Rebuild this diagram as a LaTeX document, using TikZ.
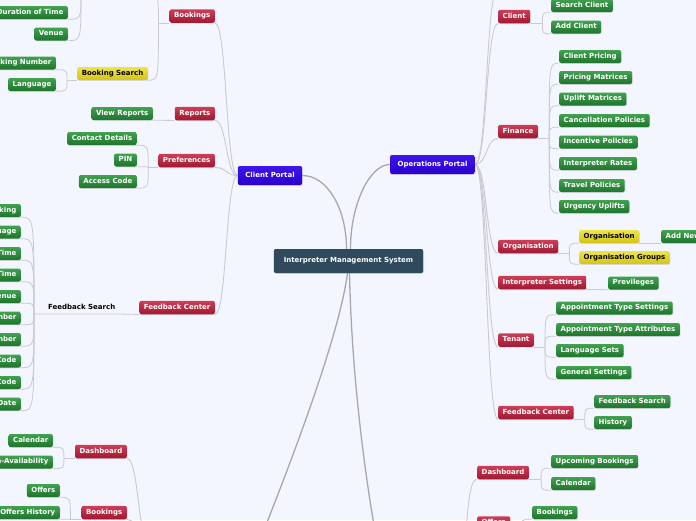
\documentclass[tikz,border=0pt]{standalone}
\usepackage{fontspec}
\setmainfont{DejaVu Sans}
\usetikzlibrary{shadows,backgrounds}
\definecolor{bgc}{RGB}{243,246,254}
\definecolor{imsc}{RGB}{46,74,92}
\definecolor{bluetop}{RGB}{62,22,235}
\definecolor{bluebot}{RGB}{42,0,205}
\definecolor{redtop}{RGB}{206,62,86}
\definecolor{redbot}{RGB}{160,24,50}
\definecolor{greentop}{RGB}{66,162,80}
\definecolor{greenbot}{RGB}{30,116,44}
\definecolor{yeltop}{RGB}{238,228,74}
\definecolor{yelbot}{RGB}{212,196,22}
\definecolor{mainln}{RGB}{168,168,172}
\definecolor{subln}{RGB}{202,202,208}
\tikzset{
 box/.style={rounded corners=2pt, inner xsep=4.5pt, inner ysep=0pt, minimum height=13pt,
   text height=5.3pt, text depth=1.4pt, font=\fontsize{7}{8}\selectfont\bfseries, text=white,
   drop shadow={opacity=0.22, shadow xshift=0.6pt, shadow yshift=-0.9pt}},
 leaf/.style={box, top color=greentop, bottom color=greenbot},
 topic/.style={box, top color=redtop, bottom color=redbot, minimum height=13.5pt},
 yel/.style={box, top color=yeltop, bottom color=yelbot, text=black},
 portal/.style={box, top color=bluetop, bottom color=bluebot, inner xsep=7.5pt, minimum height=19pt},
 central/.style={box, fill=imsc, inner xsep=10pt, minimum height=24pt},
 plain/.style={inner xsep=3pt, inner ysep=0pt, minimum height=13pt, text height=5.3pt, text depth=1.4pt,
   font=\fontsize{7}{8}\selectfont\bfseries, text=black},
 mainconn/.style={draw=mainln, line width=1.3pt},
 trunk/.style={draw=subln, line width=0.9pt},
 sub/.style={draw=subln, line width=0.8pt},
}
\newcommand\jc[2]{\draw[sub] (#1) .. controls (#1 |- #2) .. (#2);}
\begin{document}
\begin{tikzpicture}[x=1pt,y=-1pt]
\useasboundingbox (0,0) rectangle (696,520);
\clip (0,0) rectangle (696,520);
% ---------- centre and portals
\node[central] (ims) at (348.5,261) {Interpreter Management System};
\node[portal] (cport) at (270,175.5) {Client Portal};
\node[portal] (oport) at (432.5,164.5) {Operations Portal};
% off-canvas ends
\coordinate (tA) at (148,-6);
\coordinate (jTop) at (81,-8);
\coordinate (opTop) at (498,-12);
\coordinate (blpW) at (150,545);
\coordinate (blpE) at (258,545);
\coordinate (brpW) at (378,548);
\coordinate (brpE) at (458,548);
% ---------- client portal side
\node[topic,anchor=east] (bk) at (215,16) {Bookings};
\node[topic,anchor=east] (rep) at (215,113.5) {Reports};
\node[topic,anchor=east] (pref) at (215,160.5) {Preferences};
\node[topic,anchor=east] (fc) at (215,307.5) {Feedback Center};
\node[yel,anchor=east] (bs) at (148,73.5) {Booking Search};
\node[leaf,anchor=east] (dur) at (68,12.5) {Duration of Time};
\node[leaf,anchor=east] (ven) at (68,34) {Venue};
\node[leaf,anchor=east] (bnum) at (56,63) {Booking Number};
\node[leaf,anchor=east] (lang) at (56,84.5) {Language};
\node[leaf,anchor=east] (vr) at (153,113.5) {View Reports};
\node[leaf,anchor=east] (cd) at (137,138.5) {Contact Details};
\node[leaf,anchor=east] (pin) at (137,160) {PIN};
\node[leaf,anchor=east] (ac) at (137,181.5) {Access Code};
\node[plain,anchor=south west] (fs) at (45,314) {Feedback Search};
\node[leaf,anchor=east] (f1) at (21,210.5) {Booking};
\node[leaf,anchor=east] (f2) at (21,232) {Language};
\node[leaf,anchor=east] (f3) at (21,253.5) {Start Time};
\node[leaf,anchor=east] (f4) at (21,275) {End Time};
\node[leaf,anchor=east] (f5) at (21,296.5) {Venue};
\node[leaf,anchor=east] (f6) at (21,318) {Booking Number};
\node[leaf,anchor=east] (f7) at (21,339.5) {Client Number};
\node[leaf,anchor=east] (f8) at (21,361) {Post Code};
\node[leaf,anchor=east] (f9) at (21,382.5) {Cost Code};
\node[leaf,anchor=east] (f10) at (21,404) {Booking Date};
% bottom-left portal branch
\node[topic,anchor=east] (dashL) at (127,451.5) {Dashboard};
\node[topic,anchor=east] (bkL) at (127,512.5) {Bookings};
\node[leaf,anchor=east] (calL) at (53,440.5) {Calendar};
\node[leaf,anchor=east] (nonav) at (53,462) {Non-Availability};
\node[leaf,anchor=east] (off) at (60,490.5) {Offers};
\node[leaf,anchor=east] (offh) at (60,512.5) {Offers History};
% ---------- operations portal side
\node[topic,anchor=west] (cl) at (498,16.5) {Client};
\node[topic,anchor=west] (fin) at (498,131.5) {Finance};
\node[topic,anchor=west] (org) at (498,246.5) {Organisation};
\node[topic,anchor=west] (is) at (498,282.5) {Interpreter Settings};
\node[topic,anchor=west] (ten) at (498,340) {Tenant};
\node[topic,anchor=west] (fcR) at (498,412.5) {Feedback Center};
\node[leaf,anchor=west] (sc) at (551,5.5) {Search Client};
\node[leaf,anchor=west] (addc) at (551,27) {Add Client};
\node[leaf,anchor=west] (cpr) at (559,56.5) {Client Pricing};
\node[leaf,anchor=west] (pm) at (559,77.5) {Pricing Matrices};
\node[leaf,anchor=west] (um) at (559,99) {Uplift Matrices};
\node[leaf,anchor=west] (cpol) at (559,120.5) {Cancellation Policies};
\node[leaf,anchor=west] (ip) at (559,142) {Incentive Policies};
\node[leaf,anchor=west] (ir) at (559,163.5) {Interpreter Rates};
\node[leaf,anchor=west] (tp) at (559,185.5) {Travel Policies};
\node[leaf,anchor=west] (uu) at (559,206.5) {Urgency Uplifts};
\node[yel,anchor=west] (orgY) at (579,236.5) {Organisation};
\node[yel,anchor=west] (orgG) at (579,257.5) {Organisation Groups};
\node[leaf,anchor=west] (addn) at (661,236.5) {Add New Organisation};
\node[leaf,anchor=west] (prev) at (608,283) {Previleges};
\node[leaf,anchor=west] (ats) at (556,308) {Appointment Type Settings};
\node[leaf,anchor=west] (ata) at (556,329.5) {Appointment Type Attributes};
\node[leaf,anchor=west] (ls) at (556,350.5) {Language Sets};
\node[leaf,anchor=west] (gs) at (556,372.5) {General Settings};
\node[leaf,anchor=west] (fsR) at (594,401.5) {Feedback Search};
\node[leaf,anchor=west] (hist) at (594,422.5) {History};
% bottom-right portal branch
\node[topic,anchor=west] (dashR) at (477,472.5) {Dashboard};
\node[topic,anchor=west] (offR) at (477,523) {Offers};
\node[leaf,anchor=west] (ub) at (551,461.5) {Upcoming Bookings};
\node[leaf,anchor=west] (calR) at (551,483.5) {Calendar};
\node[leaf,anchor=west] (bkR) at (532,512.5) {Bookings};
% ---------- connectors
\begin{pgfonlayer}{background}
\fill[bgc] (0,0) rectangle (696,520);
% main
\draw[mainconn] ([xshift=-2pt]ims.north) .. controls +(0,-40) and +(25,0) .. (cport.east);
\draw[mainconn] ([xshift=2pt]ims.north) .. controls +(0,-45) and +(-20,0) .. (oport.west);
\draw[mainconn] ([xshift=-1pt]ims.south) .. controls (340,330) and (300,440) .. (blpE);
\draw[mainconn] ([xshift=1pt]ims.south) .. controls (351,350) and (360,450) .. (brpW);
% client portal trunk
\foreach \c in {bk,rep,pref,fc}
  \draw[trunk] (cport.west) .. controls +(-12,0) and +(12,0) .. (\c.south east);
% operations portal trunk
\foreach \c in {cl,fin,org,is,ten,fcR}
  \draw[trunk] (oport.east) .. controls +(12,0) and +(-12,0) .. (\c.south west);
\draw[trunk] (oport.east) .. controls +(12,0) and +(-12,0) .. (opTop);
% bottom portals trunks
\foreach \c in {dashL,bkL}
  \draw[trunk] (blpW) .. controls +(-12,0) and +(12,0) .. (\c.south east);
\foreach \c in {dashR,offR}
  \draw[trunk] (brpE) .. controls +(12,0) and +(-12,0) .. (\c.south west);
% Bookings (top-left)
\draw[sub] (bk.south west) -- ++(-11,0) coordinate (jbk);
\jc{jbk}{tA}
\jc{jbk}{bs.south east}
\draw[sub] (bs.south west) -- ++(-10,0) coordinate (jbs);
\jc{jbs}{bnum.south east}
\jc{jbs}{lang.south east}
\jc{jTop}{dur.south east}
\jc{jTop}{ven.south east}
% Reports / Preferences
\draw[sub] (rep.south west) -- (vr.south east);
\draw[sub] (pref.south west) -- ++(-10,0) coordinate (jpr);
\jc{jpr}{cd.south east}
\jc{jpr}{pin.south east}
\jc{jpr}{ac.south east}
% Feedback Center (left)
\draw[sub] (fc.south west) -- (fs.south east) -- (fs.south west) -- ++(-11,0) coordinate (jfs);
\foreach \c in {f1,f2,f3,f4,f5,f6,f7,f8,f9,f10}
  \jc{jfs}{\c.south east}
% Dashboard / Bookings (bottom-left)
\draw[sub] (dashL.south west) -- ++(-11,0) coordinate (jdl);
\jc{jdl}{calL.south east}
\jc{jdl}{nonav.south east}
\draw[sub] (bkL.south west) -- ++(-11,0) coordinate (jbl);
\jc{jbl}{off.south east}
\jc{jbl}{offh.south east}
% Client
\draw[sub] (cl.south east) -- ++(12,0) coordinate (jcl);
\jc{jcl}{sc.south west}
\jc{jcl}{addc.south west}
% Finance
\draw[sub] (fin.south east) -- ++(11,0) coordinate (jfin);
\foreach \c in {cpr,pm,um,cpol,ip,ir,tp,uu}
  \jc{jfin}{\c.south west}
% Organisation
\draw[sub] (org.south east) -- ++(11,0) coordinate (jorg);
\jc{jorg}{orgY.south west}
\jc{jorg}{orgG.south west}
\draw[sub] (orgY.south east) -- (addn.south west);
\draw[sub] (is.south east) -- (prev.south west);
% Tenant
\draw[sub] (ten.south east) -- ++(11,0) coordinate (jten);
\foreach \c in {ats,ata,ls,gs}
  \jc{jten}{\c.south west}
% Feedback Center (right)
\draw[sub] (fcR.south east) -- ++(11,0) coordinate (jfr);
\jc{jfr}{fsR.south west}
\jc{jfr}{hist.south west}
% Dashboard (bottom-right)
\draw[sub] (dashR.south east) -- ++(12,0) coordinate (jdr);
\jc{jdr}{ub.south west}
\jc{jdr}{calR.south west}
\draw[sub] (offR.south east) -- ++(11,0) coordinate (jor);
\jc{jor}{bkR.south west}
\end{pgfonlayer}
\end{tikzpicture}
\end{document}
